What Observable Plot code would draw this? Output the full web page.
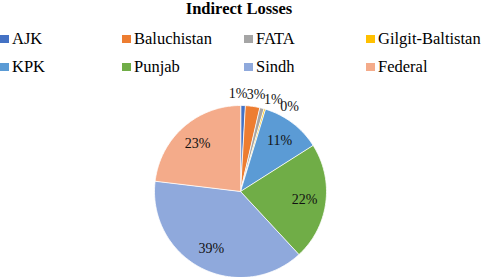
<!DOCTYPE html>
<html><head><meta charset="utf-8">
<script src="https://cdn.jsdelivr.net/npm/d3@7"></script>
<script src="https://cdn.jsdelivr.net/npm/@observablehq/plot@0.6"></script>
<style>
body{margin:0;background:#fff;width:484px;height:277px;overflow:hidden;font-family:"Liberation Serif","Times New Roman",serif;color:#000;}
#title{height:25px;line-height:18px;text-align:center;font-weight:bold;font-size:16.5px;padding-right:6px;}
#legend{height:56px;}
#legend, #legend *{font-family:"Liberation Serif","Times New Roman",serif !important;}
#legend .lg-swatches{font-size:16.5px !important;margin:0 !important;color:#000;}
#legend .lg-swatches-wrap{display:grid !important;grid-template-columns:repeat(4,122px);grid-auto-rows:28px;min-height:0 !important;}
#legend .lg-swatch{margin:0 !important;display:flex !important;align-items:center;}
#legend .lg-swatch > svg{margin-right:3px !important;}
#chart svg{display:block;overflow:visible;}
</style></head><body>
<div id="title">Indirect Losses</div>
<div id="legend"></div>
<div id="chart"></div>
<script>
const regions = ["AJK", "Baluchistan", "FATA", "Gilgit-Baltistan", "KPK", "Punjab", "Sindh", "Federal"];
const shares = [0.9, 2.7, 0.8, 0.3, 11.3, 22.1, 38.8, 23.1];
const colors = ["#4472C4", "#ED7D31", "#A5A5A5", "#FFC000", "#5B9BD5", "#70AD47", "#8FA9DC", "#F4AB8A"];

// slice outlines (unit circle), angles clockwise from 12 o'clock
const pts = [];
let cum = 0;
regions.forEach((name, i) => {
  const a0 = cum / 100 * 2 * Math.PI;
  cum += shares[i];
  const a1 = cum / 100 * 2 * Math.PI;
  const n = Math.max(2, Math.ceil((a1 - a0) / (Math.PI / 180)));
  pts.push({name, x: 0, y: 0});
  for (let k = 0; k <= n; k++) {
    const a = a0 + (a1 - a0) * k / n;
    pts.push({name, x: Math.sin(a), y: Math.cos(a)});
  }
});

// data labels
const labels = [];
let c = 0, prevSmall = -Infinity;
shares.forEach((v, i) => {
  const mid = (c + v / 2) / 100 * 360;
  c += v;
  let ang, r;
  if (v < 5) { ang = Math.max(mid - 3, prevSmall + 10.5); prevSmall = ang; r = 1.14; }
  else { ang = mid; r = 0.75; }
  const rad = ang * Math.PI / 180;
  labels.push({x: r * Math.sin(rad), y: r * Math.cos(rad), text: Math.round(v) + "%"});
});

const chart = Plot.plot({
  width: 484,
  height: 196,
  margin: 0,
  style: {background: "transparent", overflow: "visible"},
  x: {domain: [-1, 1], range: [154, 326], axis: null},
  y: {domain: [-1, 1], range: [196, 24], axis: null},
  color: {domain: regions, range: colors},
  marks: [
    Plot.line(pts, {x: "x", y: "y", z: "name", fill: "name", stroke: "white", strokeWidth: 0.8, curve: "linear-closed"}),
    Plot.text(labels, {x: "x", y: "y", text: "text", fontSize: 14, fontFamily: "Liberation Serif, Times New Roman, serif", fill: "#111"})
  ]
});
document.getElementById("chart").appendChild(chart);
document.getElementById("legend").appendChild(
  chart.legend("color", {legend: "swatches", swatchWidth: 9, swatchHeight: 8, className: "lg"})
);
</script>
</body></html>
